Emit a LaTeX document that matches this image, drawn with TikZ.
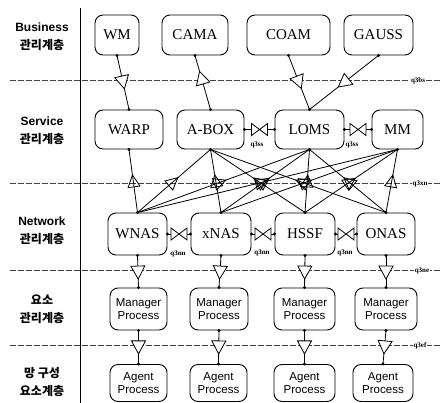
\documentclass[tikz,border=0pt]{standalone}
\usepackage{fontspec}
\setmainfont{Liberation Serif}
\newfontfamily\sansf{Liberation Sans}
\newfontfamily\kr{Noto Sans CJK KR}
\usetikzlibrary{decorations.markings}
\tikzset{
 box/.style={draw, rounded corners=8pt, line width=0.9pt, inner sep=0pt, minimum height=40pt, font=\fontsize{15}{16}\selectfont},
 proc/.style={draw, rounded corners=8pt, line width=0.9pt, inner sep=0pt, align=center, font=\sansf\fontsize{11.5}{13}\selectfont},
 layer/.style={align=center, font=\bfseries\fontsize{12}{18}\selectfont},
 conn/.style={line width=0.8pt},
 q3lab/.style={font=\bfseries\fontsize{7}{8}\selectfont, inner sep=1pt},
 dline/.style={black!75, line width=0.6pt, dash pattern=on 6pt off 2pt},
 tri/.style={postaction={decorate}, decoration={markings, mark=at position #1 with {\filldraw[fill=white, draw=black, line width=0.8pt] (9pt,0pt) -- (-4pt,7pt) -- (-4pt,-7pt) -- cycle;}}},
 trirev/.style={postaction={decorate}, decoration={markings, mark=at position #1 with {\filldraw[fill=white, draw=black, line width=0.8pt] (-9pt,0pt) -- (4pt,7pt) -- (4pt,-7pt) -- cycle;}}},
 trimesh/.style={postaction={decorate}, decoration={markings, mark=at position #1 with {\draw[line width=0.8pt] (-8pt,0pt) -- (4pt,6pt) -- (4pt,-6pt) -- cycle;}}},
 bowtie/.style={postaction={decorate}, decoration={markings, mark=at position 0.5 with {\filldraw[fill=white, draw=black, line width=0.8pt] (-8pt,-6pt) -- (8pt,6pt) -- (8pt,-6pt) -- (-8pt,6pt) -- cycle;}}},
 jdot/.style={fill=black}
}
\begin{document}
\begin{tikzpicture}[x=1pt,y=-1pt]
\useasboundingbox (0,0) rectangle (441,403);

% vertical separator
\draw[line width=0.7pt] (80,8) -- (80,403);

% dashed layer lines
\draw[dline] (10,80) -- (441,80);
\draw[dline] (10,183) -- (441,183);
\draw[dline] (10,270) -- (441,270);
\draw[dline] (10,345) -- (441,345);
\node[q3lab, fill=white] (q3bs) at (418,81) {q3bs};
\node[q3lab, fill=white] (q3xn) at (420,184) {q3xn};
\node[q3lab, fill=white] (q3ne) at (422,271) {q3ne};
\node[q3lab, fill=white] (q3ef) at (420,346) {q3ef};

% layer labels
\node[layer] (l1) at (42,37) {\sansf Business\\\kr 관리계층};
\node[layer] (l2) at (42,131) {\sansf Service\\\kr 관리계층};
\node[layer] (l3) at (42,231) {\sansf Network\\\kr 관리계층};
\node[layer] (l4) at (42,309) {\kr 요소\\\kr 관리계층};
\node[layer] (l5) at (42,382.5) {\kr 망 구성\\\kr 요소계층};

% business layer
\node[box, minimum width=44pt] (wm) at (117,35) {WM};
\node[box, minimum width=66pt] (cama) at (195,35) {CAMA};
\node[box, minimum width=83pt] (coam) at (288.5,35) {COAM};
\node[box, minimum width=69pt] (gauss) at (378.5,35) {GAUSS};

% service layer
\node[box, minimum width=68pt, minimum height=39pt] (warp) at (129,129.5) {WARP};
\node[box, minimum width=67pt, minimum height=39pt] (abox) at (210.5,129.5) {A-BOX};
\node[box, minimum width=69pt, minimum height=39pt] (loms) at (309.5,129.5) {LOMS};
\node[box, minimum width=51pt, minimum height=39pt] (mm) at (397.5,129.5) {MM};

% network layer
\node[box, minimum width=59pt, minimum height=42pt] (wnas) at (137.5,234) {WNAS};
\node[box, minimum width=60pt, minimum height=42pt] (xnas) at (221,234) {xNAS};
\node[box, minimum width=60pt, minimum height=42pt] (hssf) at (305,234) {HSSF};
\node[box, minimum width=58pt, minimum height=42pt] (onas) at (386,234) {ONAS};

% element management layer
\node[proc, minimum width=57pt, minimum height=42pt] (m1) at (138.5,309) {Manager\\Process};
\node[proc, minimum width=58pt, minimum height=42pt] (m2) at (219,309) {Manager\\Process};
\node[proc, minimum width=61pt, minimum height=42pt] (m3) at (304.5,309) {Manager\\Process};
\node[proc, minimum width=62pt, minimum height=42pt] (m4) at (386,309) {Manager\\Process};

% network element layer
\node[proc, minimum width=57pt, minimum height=37pt] (a1) at (138.5,383) {Agent\\Process};
\node[proc, minimum width=57pt, minimum height=37pt] (a2) at (218.5,383) {Agent\\Process};
\node[proc, minimum width=61pt, minimum height=37pt] (a3) at (304.5,383) {Agent\\Process};
\node[proc, minimum width=60pt, minimum height=37pt] (a4) at (383,383) {Agent\\Process};

% business -> service
\draw[conn, tri=0.455] (wm.south) -- (warp.north);
\draw[conn, trirev=0.455] (cama.south) -- (abox.north);
\draw[conn, tri=0.455] (coam.south) -- (loms.north);
\draw[conn, tri=0.48] (gauss.south) -- (loms.north);

% service peer links
\draw[conn, bowtie] (abox.east) -- (loms.west);
\draw[conn, bowtie] (loms.east) -- (mm.west);
\node[q3lab] (q3ss1) at (257,145) {q3ss};
\node[q3lab] (q3ss2) at (352,145) {q3ss};

% service -> network mesh
\draw[conn, trimesh=0.53] (warp.south) -- (wnas.north);
\foreach \s in {abox,loms,mm}
  \foreach \n in {wnas,xnas,hssf,onas}
    \draw[conn, trimesh=0.53] (\s.south) -- (\n.north);

% network peer links
\draw[conn, bowtie] (wnas.east) -- (xnas.west);
\draw[conn, bowtie] (xnas.east) -- (hssf.west);
\draw[conn, bowtie] (hssf.east) -- (onas.west);
\node[q3lab] (q3nn1) at (178,254) {q3nn};
\node[q3lab] (q3nn2) at (262,253) {q3nn};
\node[q3lab] (q3nn3) at (345,253) {q3nn};

% network -> manager
\draw[conn, tri=0.455] (wnas.south) -- (m1.north);
\draw[conn, tri=0.455] (xnas.south) -- (m2.north);
\draw[conn, tri=0.455] (hssf.south) -- (m3.north);
\draw[conn, tri=0.455] (onas.south) -- (m4.north);

% manager -> agent
\draw[conn, tri=0.43] (m1.south) -- (a1.north);
\draw[conn, tri=0.43] (m2.south) -- (a2.north);
\draw[conn, tri=0.43] (m3.south) -- (a3.north);
\draw[conn, tri=0.43] (m4.south) -- (a4.north);

% junction dots
\foreach \p in {wm.south,cama.south,coam.south,gauss.south,warp.north,abox.north,loms.north,
  warp.south,abox.south,loms.south,mm.south,wnas.north,xnas.north,hssf.north,onas.north,
  abox.east,loms.west,loms.east,mm.west,wnas.east,xnas.west,xnas.east,hssf.west,hssf.east,onas.west,
  wnas.south,xnas.south,hssf.south,onas.south,m1.north,m2.north,m3.north,m4.north,
  m1.south,m2.south,m3.south,m4.south,a1.north,a2.north,a3.north,a4.north}
  \fill[jdot] (\p) circle (1.6pt);
\end{tikzpicture}
\end{document}
